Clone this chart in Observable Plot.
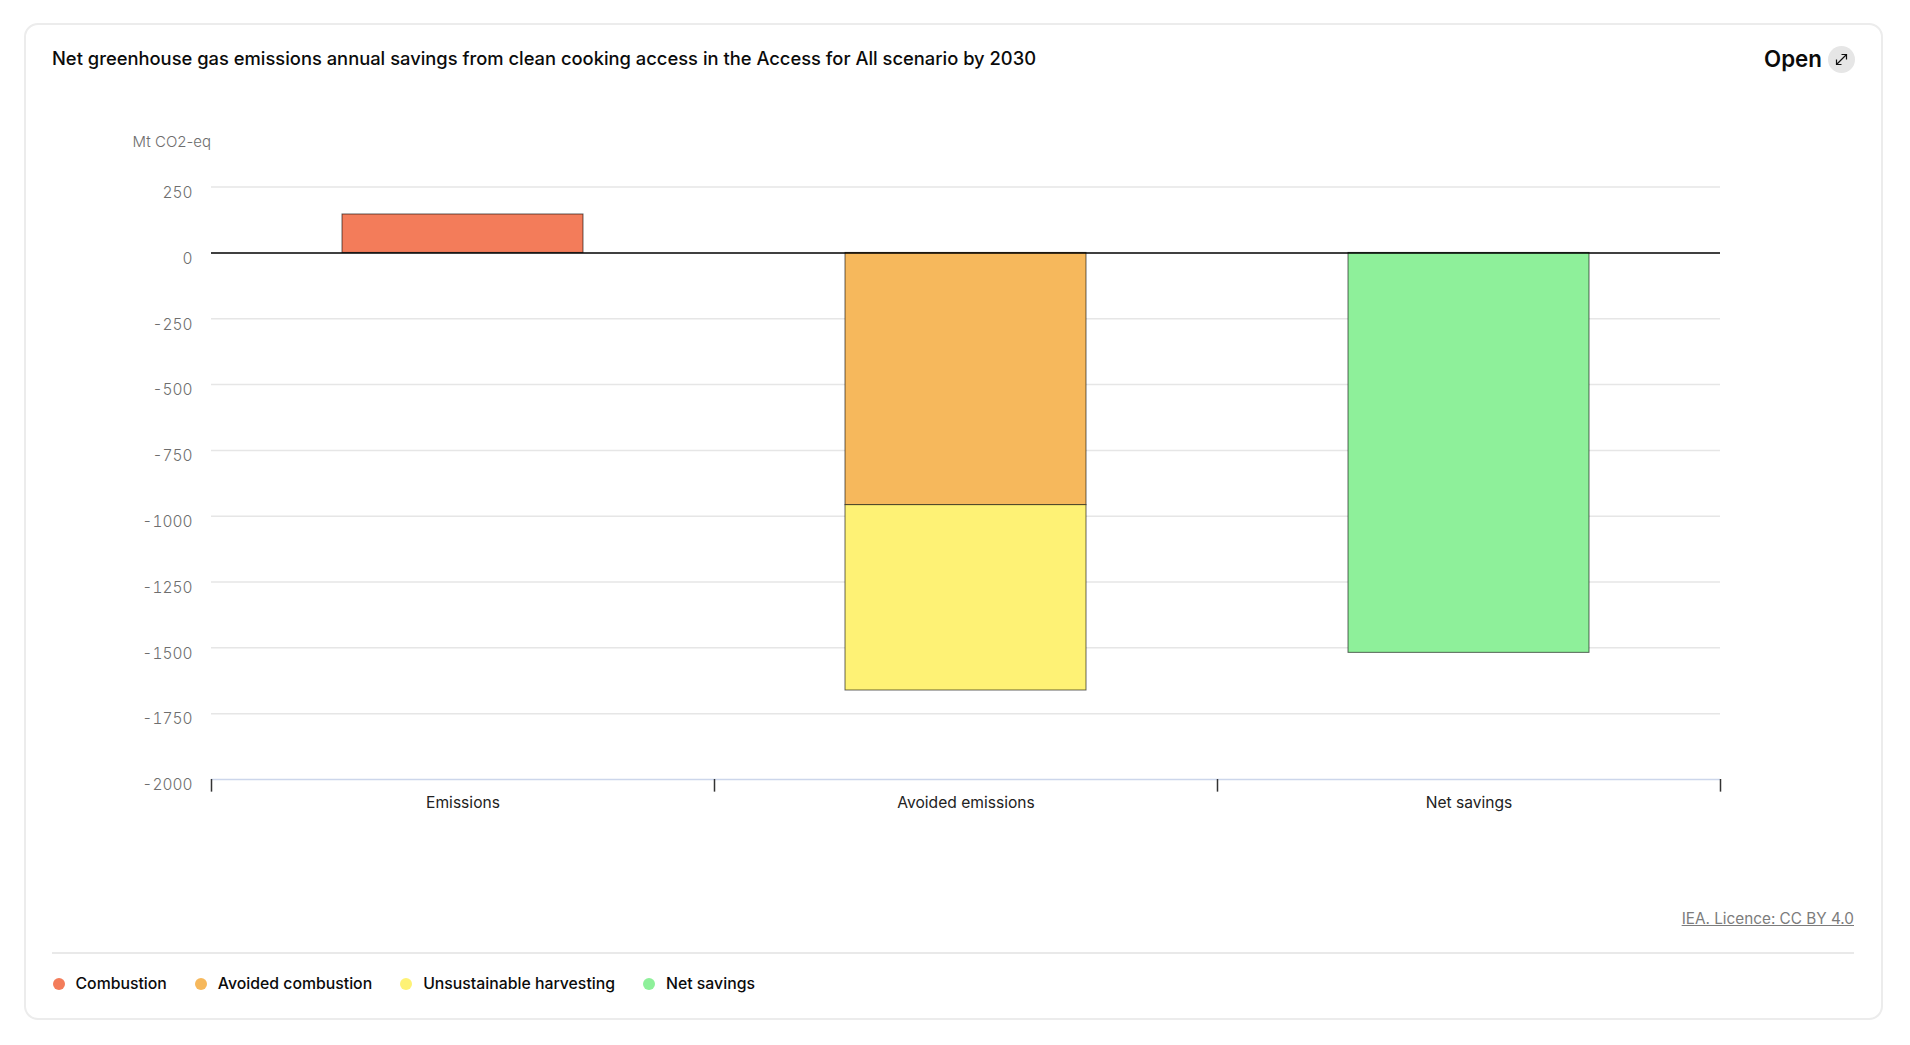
<!DOCTYPE html>
<html>
<head>
<meta charset="utf-8">
<script src="https://cdn.jsdelivr.net/npm/d3@7"></script>
<script src="https://cdn.jsdelivr.net/npm/@observablehq/plot@0.6"></script>
<style>
html,body{margin:0;padding:0;background:#fff;width:1910px;height:1045px;overflow:hidden;font-family:Inter,sans-serif;}
#card{position:absolute;left:24px;top:23px;width:1855px;height:993px;border:2px solid #ececec;border-radius:14px;box-sizing:content-box;}
#title{position:absolute;left:52px;top:46.4px;font-size:18.35px;font-weight:500;color:#0b0b0b;white-space:nowrap;line-height:24px;}
#open{position:absolute;left:1764px;top:45px;font-size:22.3px;font-weight:600;color:#0b0b0b;line-height:28px;}
#openicon{position:absolute;left:1828px;top:46px;width:27px;height:27px;}
#licence{position:absolute;right:56px;top:909px;font-size:15.3px;color:#7c7c7c;text-decoration:underline;line-height:20px;white-space:nowrap;}
#rule{position:absolute;left:52px;top:952px;width:1802px;height:2px;background:#e9e9e9;}
#legend{position:absolute;left:52.5px;top:973px;display:flex;gap:28px;font-size:15.8px;font-weight:500;color:#0b0b0b;line-height:22px;white-space:nowrap;}
#legend .item{display:flex;align-items:center;gap:11px;}
#legend .dot{width:12px;height:12px;border-radius:50%;display:inline-block;}
#chart{position:absolute;left:0;top:0;}
</style>
</head>
<body>
<div id="card"></div>
<div id="chart"></div>
<div id="title"></div>
<div id="open">Open</div>
<svg id="openicon" viewBox="0 0 27 27"><circle cx="13.5" cy="13.5" r="13.5" fill="#e6e6e6"/><path d="M8.5 18.5 L18.5 8.5 M13.5 8.5 H18.5 V13.5 M8.5 13.5 V18.5 H13.5" fill="none" stroke="#111" stroke-width="1.2"/></svg>
<a id="licence">IEA. Licence: CC BY 4.0</a>
<div id="rule"></div>
<div id="legend"></div>
<script>
const titleText = "Net greenhouse gas emissions annual savings from clean cooking access in the Access for All scenario by 2030";
const unitLabel = "Mt CO2-eq";
const categories = ["Emissions", "Avoided emissions", "Net savings"];
const seriesNames = ["Combustion", "Avoided combustion", "Unsustainable harvesting", "Net savings"];
const seriesColors = ["#f37c5a", "#f6b85c", "#fef275", "#8ef09a"];
const barCategory = ["Emissions", "Avoided emissions", "Avoided emissions", "Net savings"];
const barValues = [146, -958, -704, -1519];
const yTicks = [250, 0, -250, -500, -750, -1000, -1250, -1500, -1750, -2000];

const rows = seriesNames.map((s, i) => ({series: s, category: barCategory[i], value: barValues[i]}));

const W = 1910, H = 1045, mL = 211, mR = 190, mT = 186.6, mB = 266;
const bandStep = (W - mL - mR) / categories.length;

const plot = Plot.plot({
  width: W, height: H,
  marginLeft: mL, marginRight: mR, marginTop: mT, marginBottom: mB,
  style: {fontFamily: "Inter, sans-serif", background: "transparent"},
  x: {domain: categories, paddingInner: 0.52, paddingOuter: 0.26, label: null},
  y: {domain: [-2000, 250], label: null},
  color: {domain: seriesNames, range: seriesColors},
  marks: [
    Plot.gridY(yTicks.filter(t => t !== 0 && t !== -2000), {stroke: "#e6e6e6", strokeOpacity: 1, strokeWidth: 1.5}),
    Plot.ruleY([-2000], {stroke: "#ccd6eb", strokeWidth: 1.5}),
    Plot.ruleX(categories, {x: d => d, dx: -bandStep / 2, y1: -2000, y2: -2048, stroke: "#333", strokeWidth: 1.5}),
    Plot.ruleX(categories.slice(-1), {x: d => d, dx: bandStep / 2, y1: -2000, y2: -2048, stroke: "#333", strokeWidth: 1.5}),
    Plot.barY(rows, {x: "category", y: "value", fill: "series", stroke: "#000", strokeOpacity: 0.6, strokeWidth: 1}),
    Plot.ruleY([0], {stroke: "#000", strokeWidth: 1.5}),
    Plot.axisY({ticks: yTicks, tickSize: 0, tickPadding: 19, dy: 5.8, fontSize: 15.5, fontWeight: 300, color: "#6e6e6e", tickFormat: d => String(d), label: null}),
    Plot.axisX({tickSize: 0, tickPadding: 17.4, fontSize: 15.6, fill: "#222", label: null}),
    Plot.text([unitLabel], {frameAnchor: "top-left", dx: -79, dy: -51, textAnchor: "start", fontSize: 15, fontWeight: 300, fill: "#6e6e6e"})
  ]
});
document.getElementById("chart").appendChild(plot);
document.getElementById("title").textContent = titleText;
const legend = document.getElementById("legend");
seriesNames.forEach((s, i) => {
  const it = document.createElement("span"); it.className = "item";
  const dot = document.createElement("span"); dot.className = "dot"; dot.style.background = seriesColors[i];
  const t = document.createElement("span"); t.textContent = s;
  it.append(dot, t); legend.append(it);
});
</script>
</body>
</html>
